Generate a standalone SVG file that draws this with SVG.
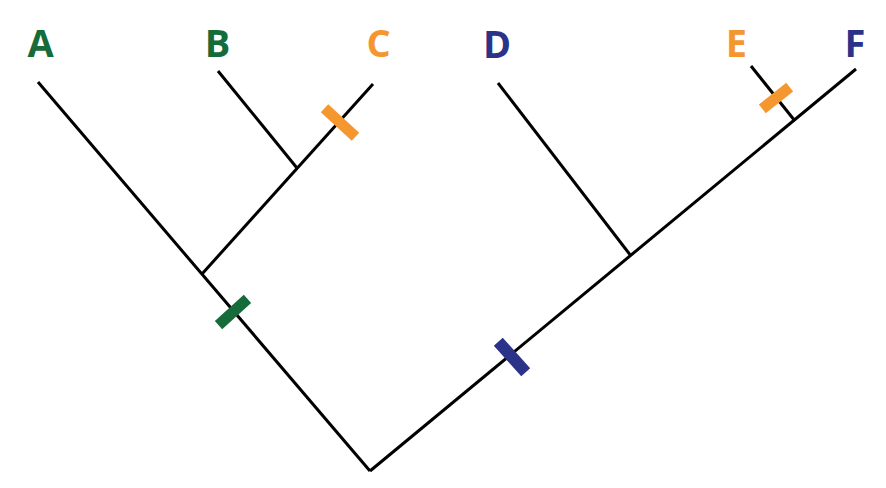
<svg xmlns="http://www.w3.org/2000/svg" width="886" height="488" viewBox="0 0 886 488">
  <style>
    .br { stroke: #000; stroke-width: 3; fill: none; stroke-linecap: butt; }
    .lbl { font-family: "Open Sans", "Liberation Sans", sans-serif; font-weight: 700; font-size: 38px; text-anchor: middle; }
    .green { fill: #156b39; }
    .orange { fill: #f5972f; }
    .blue { fill: #2b3388; }
  </style>
  <rect width="886" height="488" fill="#fff"/>
  <g id="connectors">
    <line class="br" x1="38" y1="82" x2="370" y2="471"/>
    <line class="br" x1="370" y1="471" x2="856" y2="69"/>
    <line class="br" x1="202" y1="274" x2="373" y2="84"/>
    <line class="br" x1="218" y1="71" x2="297" y2="168"/>
    <line class="br" x1="498" y1="83" x2="631" y2="256"/>
    <line class="br" x1="751" y1="66" x2="795" y2="121"/>
  </g>
  <g id="marks">
    <rect class="orange" x="-21" y="-5.5" width="42" height="11" transform="translate(340 122.5) rotate(42.5)"/>
    <rect class="green" x="-19.5" y="-5.5" width="39" height="11" transform="translate(233 312) rotate(-42)"/>
    <rect class="blue" x="-20.5" y="-6" width="41" height="12" transform="translate(512 357) rotate(48)"/>
    <rect class="orange" x="-17.5" y="-5.5" width="35" height="11" transform="translate(776 98) rotate(-38.5)"/>
  </g>
  <g id="node-A"><text class="lbl green" x="40.5" y="57">A</text></g>
  <g id="node-B"><text class="lbl green" x="217.5" y="57">B</text></g>
  <g id="node-C"><text class="lbl orange" x="378.5" y="57">C</text></g>
  <g id="node-D"><text class="lbl blue" x="497" y="58">D</text></g>
  <g id="node-E"><text class="lbl orange" x="736.5" y="57">E</text></g>
  <g id="node-F"><text class="lbl blue" x="855" y="57">F</text></g>
</svg>
